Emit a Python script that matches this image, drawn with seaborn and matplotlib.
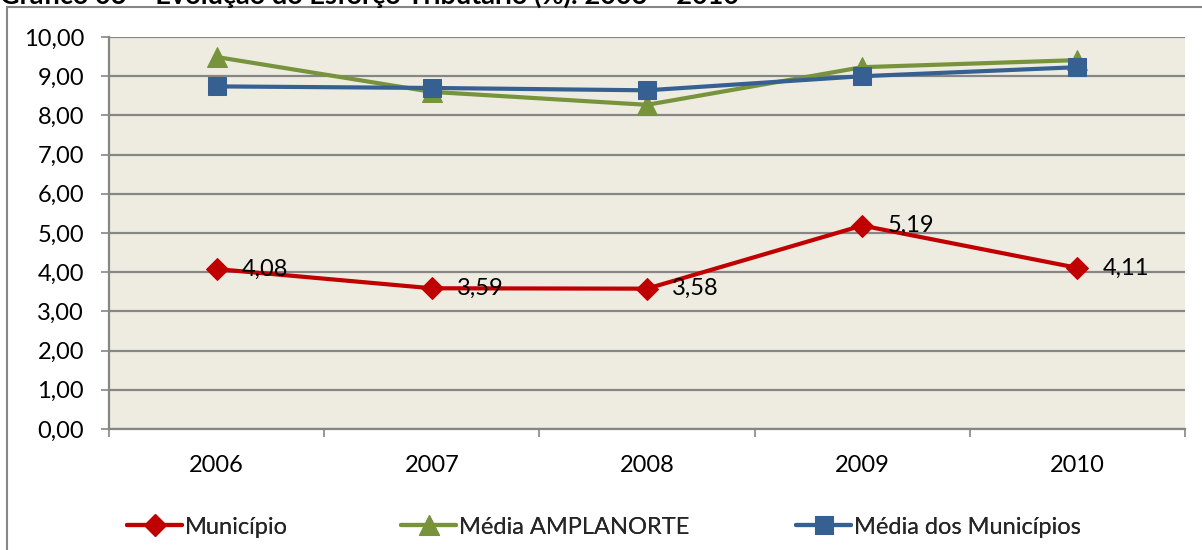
import matplotlib
matplotlib.use("Agg")
import matplotlib.pyplot as plt
import seaborn as sns
import pandas as pd
from matplotlib.patches import Rectangle
from matplotlib.ticker import FixedLocator

years = ["2006", "2007", "2008", "2009", "2010"]
municipio = [4.08, 3.59, 3.58, 5.19, 4.11]
media_amplanorte = [9.49, 8.60, 8.27, 9.23, 9.41]
media_municipios = [8.74, 8.70, 8.64, 9.00, 9.23]
series_names = ["Município", "Média AMPLANORTE", "Média dos Municípios"]
y_ticks = [0, 1, 2, 3, 4, 5, 6, 7, 8, 9, 10]
title = "Gráfico 06 – Evolução do Esforço Tributário (%): 2006 – 2010"

colors = {"Município": "#C00000", "Média AMPLANORTE": "#77933C",
          "Média dos Municípios": "#376092"}
markers = {"Município": "D", "Média AMPLANORTE": "^", "Média dos Municípios": "s"}
msizes = {"Município": 11, "Média AMPLANORTE": 14, "Média dos Municípios": 13.5}

df = pd.concat([
    pd.DataFrame({"Ano": years, "Valor": vals, "Série": name})
    for name, vals in zip(series_names, [municipio, media_amplanorte, media_municipios])
], ignore_index=True)

sns.set_theme(style="white")
plt.rcParams['font.family'] = ['Lato', 'DejaVu Sans']
FS = 17

W, H = 1202, 550
fig = plt.figure(figsize=(W / 100, H / 100), dpi=100)
ax = fig.add_axes([109 / W, 1 - 429 / H, (1185 - 109) / W, (429 - 37) / H])
ax.set_facecolor("#EEECE1")

order_draw = ["Média AMPLANORTE", "Média dos Municípios", "Município"]
for name in order_draw:
    sub = df[df["Série"] == name]
    sns.lineplot(data=sub, x="Ano", y="Valor", ax=ax, color=colors[name],
                 marker=markers[name], markersize=msizes[name],
                 markeredgecolor=colors[name], linewidth=3.0, label=name,
                 sort=False, zorder=3)
h, l = ax.get_legend_handles_labels()
handles = dict(zip(l, h))
if ax.get_legend() is not None:
    ax.get_legend().remove()

for i, (yr, v) in enumerate(zip(years, municipio)):
    ax.annotate(f"{v:.2f}".replace(".", ","), xy=(i, v), xytext=(18, 0),
                textcoords="offset points", ha="left", va="center",
                fontsize=FS, color="black", zorder=4)

ax.set_xlim(-0.5, 4.5)
ax.set_ylim(0, 10)
ax.set_yticks(y_ticks)
ax.set_yticklabels([f"{t:.2f}".replace(".", ",") for t in y_ticks])
ax.set_xticks(range(len(years)))
ax.set_xticklabels(years)
ax.xaxis.set_minor_locator(FixedLocator([i - 0.5 for i in range(len(years) + 1)]))
ax.set_xlabel("")
ax.set_ylabel("")

grid_c = "#868686"
ax.yaxis.grid(True, color=grid_c, linewidth=1.6, zorder=1)
ax.xaxis.grid(False)
ax.set_axisbelow(True)
for s in ["top", "right"]:
    ax.spines[s].set_visible(False)
for s in ["left", "bottom"]:
    ax.spines[s].set_visible(True)
    ax.spines[s].set_color(grid_c)
    ax.spines[s].set_linewidth(1.6)

ax.tick_params(axis="y", which="major", length=6, width=1.2, color=grid_c,
               direction="out", left=True, pad=12, labelsize=FS, labelcolor="black")
ax.tick_params(axis="x", which="major", length=0, pad=19, labelsize=FS,
               labelcolor="black", bottom=True)
ax.tick_params(axis="x", which="minor", length=6, width=1.2, color=grid_c,
               direction="out", bottom=True)

legend_x = [127, 401, 796]
for name, x in zip(series_names, legend_x):
    leg = fig.legend([handles[name]], [name], loc="center left",
                     bbox_to_anchor=(x / W, 1 - 527 / H), frameon=False,
                     fontsize=FS, handlelength=2.35, handletextpad=0.12,
                     borderpad=0, borderaxespad=0)
    fig.add_artist(leg)

fig.patches.append(Rectangle((7 / W, -0.05), 1.2, 1 - 7 / H + 0.05,
                             transform=fig.transFigure, fill=False,
                             edgecolor=grid_c, linewidth=1.5))

fig.text(0.0, 1 - 4 / H, title, ha="left", va="baseline", fontsize=19.5,
         fontweight="bold", color="black")

fig.savefig("out.png", dpi=100)
